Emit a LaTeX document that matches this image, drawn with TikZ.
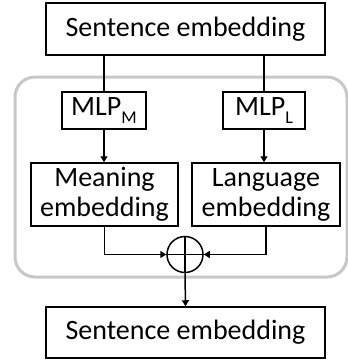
\documentclass[tikz,border=0pt]{standalone}
\usepackage{fontspec}
\setmainfont{Carlito}
\usetikzlibrary{arrows.meta}
\newcommand{\sbs}[1]{\raisebox{-0.28em}{\fontsize{18}{18}\selectfont #1}}
\begin{document}
\begin{tikzpicture}[x=1pt,y=-1pt,
  box/.style={draw=black,line width=1.5pt,rectangle,inner sep=0pt,align=center,
    font=\fontsize{28}{30}\selectfont},
  conn/.style={line width=1.5pt,draw=black},
  arr/.style={conn,-{Triangle[length=6pt,width=7pt]}}]
\useasboundingbox (0,0) rectangle (348,362);
\draw[line width=3pt,draw=black!22,rounded corners=20pt] (15,77) rectangle (347,277);
\node[box,minimum width=279pt,minimum height=52pt] (top) at (185.5,29) {Sentence embedding};
\node[box,minimum width=84pt,minimum height=37pt] (mlpm) at (104,110.5) {MLP\sbs{M}};
\node[box,minimum width=82pt,minimum height=37pt] (mlpl) at (264,110.5) {MLP\sbs{L}};
\node[box,minimum width=147pt,minimum height=63pt] (mean) at (104.5,194.5) {Meaning\\embedding};
\node[box,minimum width=148pt,minimum height=63pt] (lang) at (266,194.5) {Language\\embedding};
\node[draw=black,line width=1.5pt,circle,minimum size=36pt,inner sep=0pt] (circ) at (185,254.5) {};
\draw[conn] (circ.north) -- (circ.south);
\draw[conn] (circ.west) -- (circ.east);
\node[box,minimum width=279pt,minimum height=51pt] (bot) at (185.5,332.5) {Sentence embedding};
\draw[conn] (top.south -| mlpm.north) -- (mlpm.north);
\draw[conn] (top.south -| mlpl.north) -- (mlpl.north);
\draw[arr] (mlpm.south) -- (mlpm.south |- mean.north);
\draw[arr] (mlpl.south) -- (mlpl.south |- lang.north);
\draw[arr] (mean.south) |- (circ.west);
\draw[arr] (lang.south) |- (circ.east);
\draw[arr] (circ.south) -- (bot.north);
\end{tikzpicture}
\end{document}
